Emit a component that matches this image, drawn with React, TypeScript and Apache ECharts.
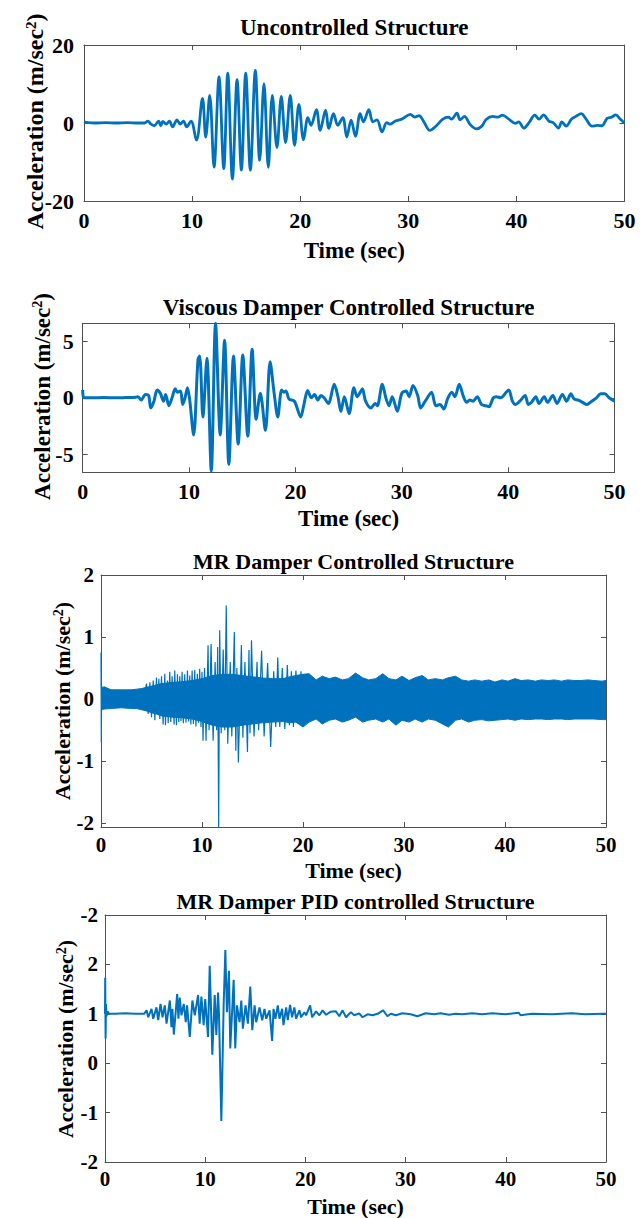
import React, { useEffect, useRef } from 'react';
import * as echarts from 'echarts';

// ---------- data ----------
const timeTicks = [0, 10, 20, 30, 40, 50];

// Uncontrolled structure: [time (s), acceleration (m/s^2)]
const uncontrolled: [number, number][] = [
  [0, 0.3], [0.4, 0.1], [1, 0], [2, 0.1], [3, 0], [4, 0.1], [5, 0], [5.6, 0],
  [5.9, 0.5], [6.2, -0.3], [6.5, -0.7], [6.9, 0.5], [7.1, -0.7], [7.3, 0.4], [7.6, -0.3], [7.9, 0.5], [8.2, -1.0], [8.6, 0.8],
  [8.9, -0.3], [9.2, 0.5], [9.5, -1.0], [9.9, 0.5], [10.4, -4.4], [10.96, 6.3], [11.26, -3.6], [11.63, 7.1], [12.03, -11.3], [12.49, 11.8],
  [12.93, -11.7], [13.3, 12.8], [13.73, -14.4], [14.16, 11.1], [14.56, -12.1], [14.96, 12.8], [15.39, -12.1], [15.85, 13.5], [16.25, -9.6], [16.65, 10.1],
  [17.05, -11.4], [17.42, 7.1], [17.85, -6.3], [18.25, 6.8], [18.65, -5.0], [19.08, 7.1], [19.48, -5.7], [19.88, 4.8], [20.31, -4.3], [20.71, 1.4],
  [21.0, -0.6], [21.5, 3.4], [21.85, -1.9], [22.35, 3.3], [22.65, -1.4], [23.08, 2.4], [23.48, -0.6], [23.94, 1.4], [24.31, -3.6], [24.71, 0.7],
  [25.11, -3.4], [25.55, 2.4], [25.85, 0.3], [26.35, 3.4], [26.72, 0.3], [27.1, 0.8], [27.57, -2.3], [28.0, 0.1], [28.3, -0.3], [28.8, 0.5],
  [29.4, 1.0], [30.2, 2.2], [30.6, 1.5], [31.0, 1.9], [31.4, 0.5], [32.0, -1.9], [32.6, -0.7], [33.2, 1.0], [33.7, 1.5], [34.0, 1.0],
  [34.5, 2.5], [34.8, 0.8], [35.2, 1.7], [35.7, -0.3], [36.3, -1.5], [36.8, -0.8], [37.2, 0.9], [37.8, 1.7], [38.3, 1.5], [38.7, 2.0],
  [39.3, 1.0], [39.9, -0.1], [40.2, 0.3], [40.7, -1.3], [41.2, 0.2], [41.7, 2.0], [42.1, 1.0], [42.5, 2.1], [43.0, 0.5], [43.4, 0.1],
  [43.9, -1.3], [44.2, 0.3], [44.6, -0.8], [45.1, 1.0], [45.5, 1.7], [46.0, 2.4], [46.4, 1.2], [47.0, -0.8], [47.5, -0.6], [47.9, -0.7],
  [48.4, 1.2], [48.8, 1.5], [49.2, 2.1], [49.6, 1.0], [50, 0],
];

// Viscous damper controlled structure
const viscous: [number, number][] = [
  [0, 0.7], [0.1, 0], [1, 0], [2, 0.02], [3, 0], [4, 0.02], [5, 0.05], [5.2, 0.1], [5.5, -0.2], [5.9, 0.3], [6.2, 0.2], [6.4, -0.9],
  [6.7, -0.3], [7.0, 0.7], [7.3, 0.4], [7.6, -0.3], [7.8, 0.3], [8.1, -0.7], [8.4, 0], [8.7, 0.8], [8.9, 0.5], [9.2, 0.6], [9.4, -0.6],
  [9.6, -0.1], [9.85, 0.9], [10.05, -0.1], [10.43, -3.3], [10.84, 3.4], [11.0, 3.7], [11.3, -1.7], [11.68, 3.5], [12.09, -6.5], [12.49, 6.6],
  [12.93, -3.3], [13.34, 5.1], [13.74, -5.9], [14.18, 3.7], [14.62, -4.1], [15.05, 3.8], [15.52, -3.4], [15.93, 4.3], [16.31, -1.9], [16.7, 0.4],
  [17.18, -2.9], [17.62, 3.2], [18.0, 0.4], [18.34, -1.7], [18.7, 0.7], [18.9, 0.5], [19.1, 0.6], [19.4, -0.1], [19.9, -0.3], [20.5, -1.7],
  [20.8, -0.6], [21.15, 0.65], [21.5, 0], [21.8, 0.3], [22.1, -0.2], [22.4, 0.2], [22.7, 0], [23.1, -0.5], [23.65, 1.2], [24.0, 0.1],
  [24.28, -1.2], [24.6, 0.1], [25.05, -1.4], [25.5, 0.9], [25.8, 0.1], [26.1, 0.5], [26.3, 0.8], [26.6, -0.3], [27.1, -0.9], [27.5, -0.5],
  [27.7, -0.7], [28.17, 1.2], [28.5, 0], [28.8, -0.7], [29.1, 0.1], [29.58, -1.2], [30.0, 0.4], [30.4, 0.6], [30.7, 0.1], [31.05, 1.1],
  [31.5, 0.2], [31.77, -0.9], [32.2, -0.3], [32.8, 0.5], [33.2, -0.7], [33.6, -0.6], [33.96, -1.0], [34.3, -0.1], [34.7, 0.5], [35.0, 0.1],
  [35.4, 1.2], [35.8, 0.1], [36.1, -0.4], [36.4, -0.2], [36.7, -0.3], [37.1, 0.1], [37.5, -0.6], [37.9, -0.7], [38.2, -0.8], [38.6, 0],
  [38.9, 0.1], [39.3, 0], [40.05, 0.7], [40.4, -0.3], [40.7, -0.6], [41.1, -0.3], [41.6, 0.2], [41.9, -0.6], [42.2, -0.4], [42.6, 0.1],
  [42.9, -0.5], [43.4, 0.1], [43.7, -0.4], [44.2, 0.2], [44.6, -0.5], [45.1, 0.3], [45.5, -0.3], [45.9, 0.35], [46.2, -0.1], [46.6, -0.2],
  [47.0, -0.4], [47.4, -0.6], [47.8, -0.35], [48.3, 0], [48.7, 0.35], [49.1, 0.35], [49.5, 0], [50, -0.3],
];

// MR damper controlled structure: dense band envelope [time, upper, lower]
const mrBand: [number, number, number][] = [
  [0, 0.17, -0.17], [0.3, 0.2, -0.16], [1, 0.15, -0.15], [2, 0.15, -0.14], [3, 0.15, -0.15], [3.5, 0.16, -0.15], [4, 0.17, -0.17],
  [4.5, 0.19, -0.19], [5, 0.21, -0.22], [5.5, 0.23, -0.24], [6, 0.25, -0.27], [6.5, 0.26, -0.28], [7, 0.27, -0.29], [8, 0.28, -0.3],
  [9, 0.3, -0.32], [10, 0.33, -0.36], [11, 0.38, -0.42], [12, 0.4, -0.45], [13, 0.4, -0.45], [14, 0.38, -0.42], [15, 0.36, -0.4],
  [16, 0.34, -0.38], [17, 0.33, -0.37], [18, 0.33, -0.36], [18.7, 0.36, -0.38], [19.3, 0.38, -0.37], [20.0, 0.40, -0.45], [20.6, 0.41, -0.37],
  [21.3, 0.31, -0.32], [21.9, 0.37, -0.40], [22.6, 0.33, -0.34], [23.2, 0.355, -0.32], [23.9, 0.31, -0.37], [24.5, 0.33, -0.34],
  [25.2, 0.42, -0.29], [25.9, 0.345, -0.37], [26.5, 0.31, -0.34], [27.2, 0.33, -0.32], [27.9, 0.41, -0.37], [28.5, 0.33, -0.32],
  [29.2, 0.31, -0.42], [29.8, 0.37, -0.34], [30.5, 0.30, -0.37], [31.1, 0.345, -0.32], [31.8, 0.38, -0.37], [32.4, 0.31, -0.32],
  [33.1, 0.33, -0.34], [33.8, 0.31, -0.40], [34.4, 0.345, -0.45], [35.1, 0.37, -0.34], [35.7, 0.31, -0.32], [36.4, 0.29, -0.37],
  [37.0, 0.31, -0.34], [37.7, 0.29, -0.33], [38.4, 0.31, -0.35], [39.0, 0.275, -0.34], [39.7, 0.31, -0.33], [40.3, 0.29, -0.32],
  [41.0, 0.33, -0.34], [41.6, 0.30, -0.32], [42.3, 0.31, -0.33], [43.0, 0.29, -0.32], [43.6, 0.31, -0.32], [44.3, 0.30, -0.33],
  [44.9, 0.31, -0.32], [45.6, 0.29, -0.32], [46.2, 0.31, -0.33], [46.9, 0.30, -0.32], [47.5, 0.30, -0.32], [48.2, 0.31, -0.32],
  [48.8, 0.30, -0.32], [49.6, 0.29, -0.33], [50, 0.30, -0.33],
];

// MR damper controlled structure: individual strokes that leave the band
const mrSpikes: [number, number][] = [
  [0, 0.75], [0.03, -0.7], [0.07, 0.22], [0.12, -0.12], [4.3, 0.1], [4.51, 0.25], [4.67, -0.24], [4.84, 0.27], [5.0, -0.29],
  [5.17, 0.30], [5.33, -0.34], [5.49, 0.35], [5.6, -0.2], [5.73, 0.33], [5.82, -0.32], [5.99, 0.37], [6.15, -0.41], [6.32, 0.41],
  [6.38, -0.42], [6.58, 0.30], [6.65, -0.39], [6.81, 0.44], [6.91, -0.37], [7.04, 0.37], [7.24, -0.41], [7.30, 0.46], [7.47, -0.42],
  [7.57, 0.40], [7.70, -0.37], [7.80, 0.37], [7.92, -0.35], [8.03, 0.44], [8.15, -0.39], [8.29, 0.40], [8.42, -0.38], [8.56, 0.46],
  [8.68, -0.36], [8.79, 0.38], [8.9, -0.41], [9.02, 0.46], [9.15, -0.40], [9.28, 0.47], [9.4, -0.44], [9.54, 0.41], [9.65, -0.38],
  [9.77, 0.49], [9.9, -0.45], [10.0, 0.44], [10.1, -0.67], [10.25, 0.5], [10.4, -0.67], [10.6, 0.87], [10.7, -0.5], [10.9, 0.89],
  [11.1, -0.67], [11.3, 0.6], [11.45, -0.5], [11.55, 0.84], [11.65, -2.1], [11.75, 1.11], [11.9, -0.55], [12.1, 0.8], [12.25, -0.5],
  [12.4, 1.51], [12.55, -0.72], [12.8, 0.6], [12.95, -0.6], [13.2, 1.08], [13.35, -0.83], [13.45, 0.5], [13.6, -1.02], [13.9, 0.87],
  [14.05, -0.62], [14.25, 0.6], [14.5, -0.85], [14.65, 0.79], [14.75, -0.55], [14.9, 0.95], [15.15, -0.6], [15.45, 0.6], [15.6, -0.5],
  [15.9, 0.78], [16.15, -0.6], [16.5, 0.58], [16.8, -0.77], [17.1, 0.45], [17.3, -0.45], [17.5, 0.67], [17.7, -0.45], [17.95, 0.5],
  [18.2, -0.48], [18.45, 0.55], [18.65, -0.42], [18.85, 0.45], [19.05, -0.45], [19.3, 0.46], [19.55, -0.4], [19.8, 0.45], [20.0, -0.42],
  [20.2, 0],
];

// MR damper PID controlled structure
const pid: [number, number][] = [
  [0, 1.0], [0.02, 1.73], [0.06, 0.5], [0.1, 1.2], [0.15, 0.95], [0.25, 1.05], [0.4, 1.0], [1, 1.0], [2, 1.01], [3, 1.0], [3.9, 1.0],
  [4.15, 1.07], [4.31, 0.93], [4.64, 1.1], [4.81, 0.9], [5.14, 1.13], [5.31, 0.87], [5.54, 1.2], [5.74, 0.93], [5.97, 1.17], [6.14, 0.8],
  [6.47, 1.27], [6.63, 0.73], [6.73, 1.1], [6.87, 0.58], [7.2, 1.4], [7.33, 0.9], [7.46, 1.33], [7.63, 0.97], [7.86, 1.2], [8.06, 0.83],
  [8.19, 1.17], [8.46, 0.53], [8.72, 1.27], [8.96, 0.97], [9.29, 1.38], [9.45, 0.8], [9.62, 1.35], [9.85, 0.77], [10.0, 1.3], [10.28, 0.53],
  [10.45, 1.97], [10.58, 1.1], [10.71, 0.17], [10.95, 1.38], [11.11, 0.57], [11.28, 1.43], [11.38, 0.97], [11.61, -1.17], [11.7, -0.3],
  [11.84, 1.17], [12.01, 2.29], [12.17, 1.03], [12.37, 1.87], [12.5, 0.3], [12.7, 1.1], [12.84, 1.69], [13.0, 0.3], [13.17, 1.17],
  [13.43, 0.83], [13.6, 1.27], [13.76, 0.7], [14.03, 1.17], [14.26, 0.8], [14.5, 1.55], [14.7, 0.67], [14.93, 1.17], [15.09, 0.83],
  [15.42, 1.13], [15.69, 0.87], [15.92, 1.1], [16.09, 0.9], [16.42, 1.07], [16.68, 0.45], [16.82, 1.1], [17.01, 0.9], [17.25, 1.17],
  [17.41, 0.9], [17.68, 1.1], [17.81, 0.77], [18.08, 1.13], [18.24, 0.87], [18.47, 1.18], [18.67, 0.93], [18.9, 1.13], [19.07, 0.9],
  [19.4, 1.07], [19.57, 0.93], [19.9, 1.03], [20.07, 0.97], [20.47, 1.17], [20.67, 0.93], [21.06, 1.05], [21.39, 0.97], [21.72, 1.07],
  [22.06, 0.98], [22.5, 1.04], [23.05, 1.05], [23.38, 0.95], [23.71, 1.07], [24.05, 0.93], [24.54, 1.03], [24.88, 0.97], [25.37, 1.01],
  [25.7, 0.93], [26.2, 0.99], [26.7, 0.97], [27.2, 1.0], [27.76, 1.07], [28.19, 0.95], [28.53, 1.0], [29.02, 0.97], [29.69, 1.01],
  [30.51, 0.99], [31.18, 0.95], [32.0, 1.01], [32.84, 0.99], [33.5, 1.01], [34.33, 0.98], [35.0, 1.0], [35.66, 0.99], [36.65, 1.01],
  [37.65, 0.99], [38.64, 1.01], [39.97, 0.99], [41.3, 1.02], [41.47, 0.97], [42.6, 1.0], [44.6, 0.99], [46.6, 1.01], [47.9, 0.99],
  [49.75, 1.0], [50, 1.0],
];

// tick labels of the PID panel as printed (top tick reads "-2")
const pidTickLabels = ['-2', '-1', '0', '1', '2', '-2'];

const titles = [
  'Uncontrolled Structure',
  'Viscous Damper Controlled Structure',
  'MR Damper Controlled Structure',
  'MR Damper PID controlled Structure',
];
const xName = 'Time (sec)';
const yName = 'Acceleration (m/sec{sup|2})';

// ---------- layout / style ----------
const FONT = '"Liberation Serif", "Times New Roman", serif';
const BLUE = '#0072BD';
const AXIS = '#505050';

const panels = [
  { left: 84, top: 45, width: 540.5, height: 156, titleY: 27, nameX: 35, nameY: 121.5, nameSize: 24, tick: 22, head: 23, xGap: 38, xMargin: 8, yMargin: 10 },
  { left: 82.7, top: 323.3, width: 531.8, height: 149, titleY: 307, nameX: 42, nameY: 396.5, nameSize: 23, tick: 22, head: 23, xGap: 35, xMargin: 8, yMargin: 9 },
  { left: 101, top: 575, width: 505, height: 252, titleY: 561, nameX: 62, nameY: 701, nameSize: 22, tick: 21, head: 22, xGap: 32, xMargin: 7, yMargin: 7 },
  { left: 105, top: 915, width: 501, height: 250, titleY: 901, nameX: 65, nameY: 1039, nameSize: 22, tick: 21, head: 22, xGap: 33, xMargin: 6, yMargin: 7 },
];

const yScales: any[] = [
  { min: -20, max: 20, interval: 20 },
  { min: -6.6, max: 6.6, splitNumber: 3, hideMin: true, hideMax: true },
  { min: -2.06, max: 2, splitNumber: 4, hideMin: true },
  { min: -2, max: 3, interval: 1, labels: pidTickLabels },
];

function buildOption() {
  const grid: any[] = [];
  const xAxis: any[] = [];
  const yAxis: any[] = [];
  const graphic: any[] = [];

  panels.forEach((p, i) => {
    grid.push({ left: p.left, top: p.top, width: p.width, height: p.height, containLabel: false });
    const line = { show: true, onZero: false, lineStyle: { color: AXIS, width: 1 } };
    const tick = { show: true, inside: true, length: 5, lineStyle: { color: AXIS, width: 1 } };
    const labelFont = { fontFamily: FONT, fontWeight: 'bold', fontSize: p.tick, color: '#000' };
    xAxis.push({
      type: 'value', gridIndex: i, position: 'bottom', min: timeTicks[0], max: timeTicks[timeTicks.length - 1],
      interval: timeTicks[1] - timeTicks[0],
      axisLine: line, axisTick: tick, splitLine: { show: false },
      axisLabel: { ...labelFont, margin: p.xMargin },
      name: xName, nameLocation: 'middle', nameGap: p.xGap,
      nameTextStyle: { fontFamily: FONT, fontWeight: 'bold', fontSize: p.head, color: '#000' },
    });
    xAxis.push({
      type: 'value', gridIndex: i, position: 'top', min: timeTicks[0], max: timeTicks[timeTicks.length - 1],
      interval: timeTicks[1] - timeTicks[0],
      axisLine: line, axisTick: tick, splitLine: { show: false }, axisLabel: { show: false },
    });
    const ys = yScales[i];
    const scale: any = { min: ys.min, max: ys.max };
    if (ys.interval != null) scale.interval = ys.interval;
    if (ys.splitNumber != null) scale.splitNumber = ys.splitNumber;
    const yLabel: any = { ...labelFont, margin: p.yMargin };
    if (ys.hideMin) yLabel.showMinLabel = false;
    if (ys.hideMax) yLabel.showMaxLabel = false;
    if (ys.labels) {
      const lbl = ys.labels as string[];
      yLabel.formatter = (v: number) => lbl[Math.round(v - ys.min)] ?? String(v);
    } else {
      yLabel.formatter = (v: number) => String(Math.round(v * 100) / 100);
    }
    yAxis.push({
      type: 'value', gridIndex: i, position: 'left', ...scale,
      axisLine: line, axisTick: tick, splitLine: { show: false }, axisLabel: yLabel,
    });
    yAxis.push({
      type: 'value', gridIndex: i, position: 'right', ...scale,
      axisLine: line, axisTick: tick, splitLine: { show: false }, axisLabel: { show: false },
    });

    graphic.push({
      type: 'text', x: p.left + p.width / 2, y: p.titleY, silent: true,
      style: {
        text: titles[i], fill: '#000', font: `bold ${p.head}px ${FONT}`,
        align: 'center', verticalAlign: 'middle',
      },
    });
    graphic.push({
      type: 'text', x: p.nameX, y: p.nameY, rotation: Math.PI / 2, silent: true,
      style: {
        text: yName, fill: '#000', font: `bold ${p.nameSize}px ${FONT}`,
        align: 'center', verticalAlign: 'middle',
        rich: {
          sup: { fontFamily: FONT, fontWeight: 'bold', fontSize: Math.round(p.nameSize * 0.62), fill: '#000', verticalAlign: 'top', lineHeight: p.nameSize },
        },
      },
    });
  });

  const base = { type: 'line', showSymbol: false, symbol: 'none', animation: false, silent: true };
  const series: any[] = [
    {
      ...base, xAxisIndex: 0, yAxisIndex: 0, smooth: 0.35, data: uncontrolled,
      lineStyle: { color: BLUE, width: 2.8 }, itemStyle: { color: BLUE },
    },
    {
      ...base, xAxisIndex: 2, yAxisIndex: 2, smooth: 0.3, data: viscous,
      lineStyle: { color: BLUE, width: 3 }, itemStyle: { color: BLUE },
    },
    // dense band of the MR panel: upper envelope filled down past zero, lower envelope filled up past zero
    {
      ...base, xAxisIndex: 4, yAxisIndex: 4, data: mrBand.map((r) => [r[0], r[1]]),
      lineStyle: { color: BLUE, width: 1 }, itemStyle: { color: BLUE },
      areaStyle: { color: BLUE, opacity: 1, origin: -0.06 },
    },
    {
      ...base, xAxisIndex: 4, yAxisIndex: 4, data: mrBand.map((r) => [r[0], r[2]]),
      lineStyle: { color: BLUE, width: 1 }, itemStyle: { color: BLUE },
      areaStyle: { color: BLUE, opacity: 1, origin: 0.06 },
    },
    {
      ...base, xAxisIndex: 4, yAxisIndex: 4, data: mrSpikes,
      lineStyle: { color: BLUE, width: 1.2 }, itemStyle: { color: BLUE },
    },
    {
      ...base, xAxisIndex: 6, yAxisIndex: 6, data: pid,
      lineStyle: { color: BLUE, width: 2 }, itemStyle: { color: BLUE },
    },
  ];

  return { animation: false, backgroundColor: '#fff', grid, xAxis, yAxis, series, graphic };
}

export default function App() {
  const ref = useRef<HTMLDivElement>(null);
  useEffect(() => {
    if (!ref.current) return;
    const chart = echarts.init(ref.current, null, { renderer: 'svg' });
    chart.setOption(buildOption() as any);
    return () => chart.dispose();
  }, []);
  return (
    <div
      ref={ref}
      style={{ position: 'absolute', left: 0, top: 0, width: 644, height: 1218, background: '#fff' }}
    />
  );
}
